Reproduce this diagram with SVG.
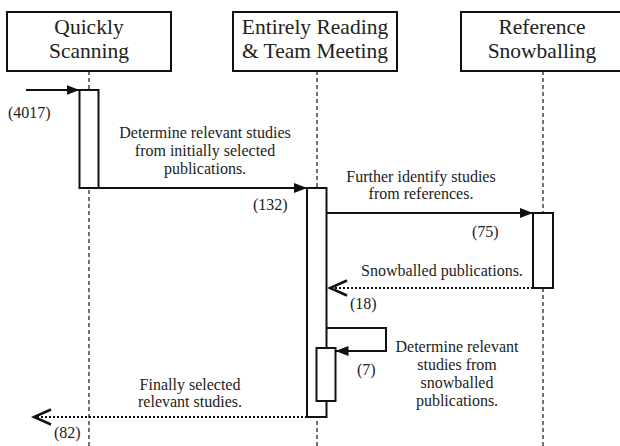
<svg xmlns="http://www.w3.org/2000/svg" width="620" height="446" viewBox="0 0 620 446">
<defs>
<marker id="fill" markerUnits="userSpaceOnUse" markerWidth="14" markerHeight="12" refX="13" refY="6" orient="auto">
<path d="M0,1 L13,6 L0,11 Z" fill="#111"/>
</marker>
<marker id="open" markerUnits="userSpaceOnUse" markerWidth="22" markerHeight="20" refX="19" refY="10" orient="auto">
<path d="M2,2.5 L19,10 L2,17.5" fill="none" stroke="#111" stroke-width="2.5"/>
</marker>
</defs>
<rect width="620" height="446" fill="#fff"/>
<g id="lifelines" stroke="#111" stroke-width="1.2" stroke-dasharray="4 3" fill="none">
<line x1="89" y1="71" x2="89" y2="446"/>
<line x1="317" y1="71" x2="317" y2="446"/>
<line x1="543" y1="71" x2="543" y2="446"/>
</g>
<g id="quickly-scanning">
<rect x="7" y="12" width="164" height="59" fill="#fff" stroke="#111" stroke-width="2"/>
<text style="font-family:serif" font-family="serif" font-size="21.5" fill="#222" text-anchor="middle" x="89" y="34">Quickly</text>
<text style="font-family:serif" font-family="serif" font-size="21.5" fill="#222" text-anchor="middle" x="89" y="58">Scanning</text>
<rect x="79.5" y="90" width="19" height="98" fill="#fff" stroke="#111" stroke-width="2"/>
</g>
<g id="entirely-reading">
<rect x="233" y="12" width="164" height="59" fill="#fff" stroke="#111" stroke-width="2"/>
<text style="font-family:serif" font-family="serif" font-size="21.5" fill="#222" text-anchor="middle" x="315" y="34">Entirely Reading</text>
<text style="font-family:serif" font-family="serif" font-size="21.5" fill="#222" text-anchor="middle" x="315" y="58">&amp; Team Meeting</text>
<rect x="307" y="188" width="19.5" height="229" fill="#fff" stroke="#111" stroke-width="2"/>
<rect x="316.5" y="348" width="19" height="53" fill="#fff" stroke="#111" stroke-width="2"/>
</g>
<g id="reference-snowballing">
<rect x="461" y="12" width="164" height="59" fill="#fff" stroke="#111" stroke-width="2"/>
<text style="font-family:serif" font-family="serif" font-size="21.5" fill="#222" text-anchor="middle" x="542" y="34">Reference</text>
<text style="font-family:serif" font-family="serif" font-size="21.5" fill="#222" text-anchor="middle" x="542" y="58">Snowballing</text>
<rect x="533" y="213" width="20" height="75" fill="#fff" stroke="#111" stroke-width="2"/>
</g>
<g id="connectors" stroke="#111" stroke-width="2" fill="none">
<line x1="26" y1="90" x2="79.5" y2="90" marker-end="url(#fill)"/>
<line x1="98.5" y1="188" x2="307" y2="188" marker-end="url(#fill)"/>
<line x1="326.5" y1="213" x2="533" y2="213" marker-end="url(#fill)"/>
<line x1="533" y1="288" x2="330" y2="288" stroke-dasharray="2 2" marker-end="url(#open)"/>
<path d="M326.5,328 H386 V351 H335.5" marker-end="url(#fill)"/>
<line x1="307" y1="417" x2="34" y2="417" stroke-dasharray="2 2" marker-end="url(#open)"/>
</g>
<g id="labels" fill="#222">
<text style="font-family:serif" font-family="serif" font-size="16" x="8" y="118">(4017)</text>
<text style="font-family:serif" font-family="serif" font-size="16" text-anchor="middle" x="205" y="138">Determine relevant studies</text>
<text style="font-family:serif" font-family="serif" font-size="16" text-anchor="middle" x="205" y="156">from initially selected</text>
<text style="font-family:serif" font-family="serif" font-size="16" text-anchor="middle" x="205" y="174">publications.</text>
<text style="font-family:serif" font-family="serif" font-size="16" x="253" y="210">(132)</text>
<text style="font-family:serif" font-family="serif" font-size="16" text-anchor="middle" x="421" y="182">Further identify studies</text>
<text style="font-family:serif" font-family="serif" font-size="16" text-anchor="middle" x="421" y="199">from references.</text>
<text style="font-family:serif" font-family="serif" font-size="16" x="472" y="237">(75)</text>
<text style="font-family:serif" font-family="serif" font-size="16" text-anchor="middle" x="442" y="276">Snowballed publications.</text>
<text style="font-family:serif" font-family="serif" font-size="16" x="350" y="309">(18)</text>
<text style="font-family:serif" font-family="serif" font-size="16" x="357" y="375">(7)</text>
<text style="font-family:serif" font-family="serif" font-size="16" text-anchor="middle" x="457" y="352">Determine relevant</text>
<text style="font-family:serif" font-family="serif" font-size="16" text-anchor="middle" x="457" y="370">studies from</text>
<text style="font-family:serif" font-family="serif" font-size="16" text-anchor="middle" x="457" y="388">snowballed</text>
<text style="font-family:serif" font-family="serif" font-size="16" text-anchor="middle" x="457" y="406">publications.</text>
<text style="font-family:serif" font-family="serif" font-size="16" text-anchor="middle" x="190" y="390">Finally selected</text>
<text style="font-family:serif" font-family="serif" font-size="16" text-anchor="middle" x="190" y="407">relevant studies.</text>
<text style="font-family:serif" font-family="serif" font-size="16" x="54" y="438">(82)</text>
</g>
</svg>
